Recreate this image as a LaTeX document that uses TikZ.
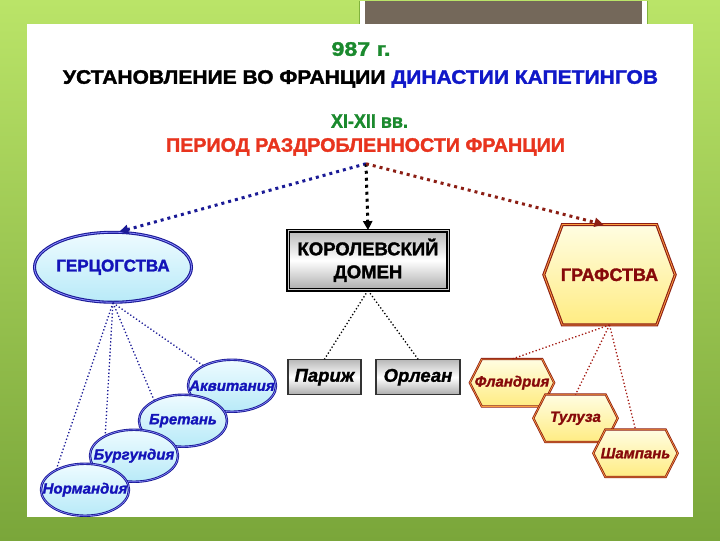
\documentclass[tikz,border=0pt]{standalone}
\usepackage{fontspec}
\setmainfont{Liberation Sans}[BoldFeatures={FakeBold=1.6}, BoldItalicFeatures={FakeBold=1.3}]
\usetikzlibrary{shapes.geometric,arrows.meta}
\definecolor{bgtop}{RGB}{186,228,104}
\definecolor{bgbot}{RGB}{122,166,58}
\definecolor{bgline}{RGB}{128,178,60}
\definecolor{capgray}{RGB}{116,104,90}
\definecolor{titlegreen}{RGB}{27,138,46}
\definecolor{titleblue}{RGB}{16,24,200}
\definecolor{titlered}{RGB}{232,52,30}
\definecolor{duchyline}{RGB}{26,26,150}
\definecolor{duchytext}{RGB}{20,20,185}
\definecolor{icetop}{RGB}{238,251,255}
\definecolor{icebot}{RGB}{184,234,248}
\definecolor{countyline}{RGB}{140,30,20}
\definecolor{countytext}{RGB}{135,10,10}
\definecolor{hextop}{RGB}{255,253,226}
\definecolor{hexbot}{RGB}{255,236,130}
\pgfdeclarelayer{bg}
\pgfsetlayers{bg,main}
\newcommand{\fitw}[2]{\resizebox{#1}{\height}{#2}}
\newcommand{\hexframe}[3][]{\path[hexline,#1] (#2.west) -- ([xshift=#3]#2.north west) -- ([xshift=-#3]#2.north east)
  -- (#2.east) -- ([xshift=-#3]#2.south east) -- ([xshift=#3]#2.south west) -- cycle;}
\begin{document}
\begin{tikzpicture}[x=1pt, y=-1pt,
	title/.style={inner sep=0pt, anchor=base, font=\bfseries\fontsize{19.5}{22}\selectfont},
	bigdots/.style={line width=3pt, dash pattern=on 3pt off 4pt, -{Triangle[length=9pt,width=9pt]}},
	smalldots/.style={line width=1.3pt, dash pattern=on 1.3pt off 2.2pt},
	oval/.style={ellipse, draw=duchyline, double=blue!45, line width=0.9pt, double distance=0.6pt,
		top color=icetop, bottom color=icebot, inner sep=0pt, text=duchytext},
	duchy/.style={oval, minimum width=88pt, minimum height=52pt, font=\bfseries\itshape\fontsize{15}{17}\selectfont},
	county/.style={rectangle, inner sep=0pt, minimum width=84pt, minimum height=47pt, text=countytext,
		font=\bfseries\itshape\fontsize{15}{17}\selectfont},
	hexline/.style={draw=countyline, double=orange!75, line width=0.8pt, double distance=0.6pt,
		top color=hextop, bottom color=hexbot, line join=miter},
	metal/.style={rectangle, inner sep=0pt, top color=gray!55, bottom color=gray!65, middle color=white},
	town/.style={metal, draw=black!80, line width=1.2pt, minimum height=35pt,
		font=\bfseries\itshape\fontsize{18.5}{20}\selectfont},
	]

	\begin{pgfonlayer}{bg}
	\shade[top color=bgtop, bottom color=bgbot] (0,0) rectangle (720,540);
	\fill[white] (27,23) rectangle (693,516);
	\fill[white] (359,0) rectangle (648,23);
	\fill[capgray] (365,0) rectangle (642,23);
	\draw[bgline, line width=1.5pt] (359.5,0) -- (359.5,23) (647.5,0) -- (647.5,23);
	\end{pgfonlayer}

	% headings
	\node[title, text=titlegreen] (year) at (361,55) {\fitw{59pt}{987 г.}};
	\node[title] (dynasty) at (360.5,83) {\fitw{595pt}{УСТАНОВЛЕНИЕ ВО ФРАНЦИИ \textcolor{titleblue}{ДИНАСТИИ КАПЕТИНГОВ}}};
	\node[title, text=titlegreen] (century) at (369.5,127) {\fitw{77pt}{XI-XII вв.}};
	\node[title, text=titlered] (period) at (365.5,151) {\fitw{399pt}{ПЕРИОД РАЗДРОБЛЕННОСТИ ФРАНЦИИ}};

	% three branches
	\node[oval, minimum width=157pt, minimum height=70pt, line width=1.1pt, double distance=0.8pt,
		font=\bfseries\fontsize{17}{19}\selectfont] (duchies) at (113,266.5) {\makebox[0pt]{ГЕРЦОГСТВА}};
	\node[metal, draw=black, line width=1.3pt, double=gray!40, double distance=1pt, minimum width=160pt,
		minimum height=59pt, align=center, font=\bfseries\fontsize{18.5}{23}\selectfont] (domain) at (368,259.5) {КОРОЛЕВСКИЙ\\ДОМЕН};
	\node[county, minimum width=131pt, minimum height=100pt, font=\bfseries\fontsize{18}{20}\selectfont] (counties) at (609.5,274) {ГРАФСТВА};

	% duchies
	\node[duchy] (akv) at (232,385) {\makebox[0pt]{Аквитания}};
	\node[duchy] (bre) at (183,420) {\makebox[0pt]{Бретань}};
	\node[duchy] (bur) at (134,455) {\makebox[0pt]{Бургундия}};
	\node[duchy] (nor) at (85,489) {\makebox[0pt]{Нормандия}};

	% royal towns
	\node[town, minimum width=73pt] (paris) at (324.5,376.5) {Париж};
	\node[town, minimum width=84pt] (orleans) at (418,376.5) {Орлеан};

	% counties
	\node[county] (fla) at (512,382) {Фландрия};
	\node[county] (tou) at (575.5,417.5) {Тулуза};
	\node[county] (cha) at (635.5,452.5) {Шампань};

	\begin{pgfonlayer}{bg}
	\hexframe[line width=1.1pt, double distance=0.8pt]{counties}{18.5pt}
	\hexframe{fla}{12pt}
	\hexframe{tou}{12pt}
	\hexframe{cha}{12pt}
	\end{pgfonlayer}

	\coordinate (fork) at (366,163);
	\draw[bigdots, duchyline] (fork) -- (duchies.80);
	\draw[bigdots, black] (fork) -- (domain.north);
	\draw[bigdots, countyline] (fork) -- ([xshift=-6pt]counties.north);

	\foreach \d in {akv,bre,bur,nor}
		\draw[smalldots, duchyline] (duchies.south) -- (\d.145);
	\foreach \t in {paris,orleans}
		\draw[smalldots, black] (domain.south) -- (\t.north);
	\foreach \c in {fla,tou,cha}
		\draw[smalldots, countyline!80!red] (counties.south) -- (\c.north);
\end{tikzpicture}
\end{document}
